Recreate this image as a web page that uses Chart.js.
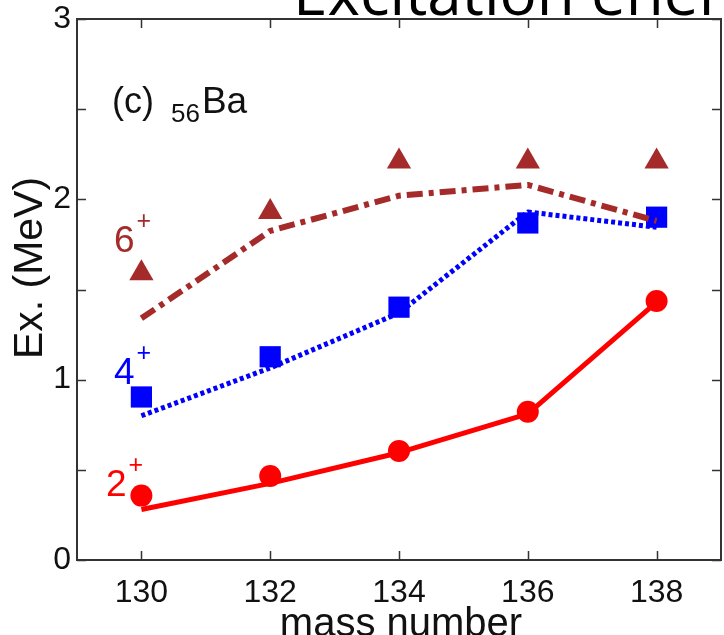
<!DOCTYPE html>
<html>
<head>
<meta charset="utf-8">
<script src="https://cdn.jsdelivr.net/npm/chart.js@4.4.1/dist/chart.umd.min.js"></script>
<style>
  html, body { margin: 0; padding: 0; background: #fff; }
  #wrap { width: 724px; height: 635px; overflow: hidden; }
</style>
</head>
<body>
<div id="wrap"><canvas id="exChart" width="724" height="635"></canvas></div>
<script>
// Ba isotopes, low-lying yrast levels (MeV)
const massNumbers = [130, 132, 134, 136, 138];
const exp2 = [0.357, 0.466, 0.605, 0.822, 1.436];
const exp4 = [0.904, 1.127, 1.402, 1.869, 1.901];
const exp6 = [1.59, 1.93, 2.21, 2.21, 2.21];
const calc2 = [0.28, 0.425, 0.595, 0.81, 1.43];
const calc4 = [0.80, 1.065, 1.37, 1.93, 1.845];
const calc6 = [1.34, 1.825, 2.02, 2.08, 1.88];
const xTicks = [130, 132, 134, 136, 138];
const yTicks = [0, 0.5, 1, 1.5, 2, 2.5, 3];

const RED = "#ff0000";
const BLUE = "#0000ff";
const BROWN = "#a52a2a";
const FONT = "'Liberation Sans', Arial, sans-serif";

const pts = (ys) => massNumbers.map((x, i) => ({ x, y: ys[i] }));

function marks(data, color, style, radius) {
  return {
    data: pts(data), showLine: false, order: 2,
    pointStyle: style, pointRadius: radius, pointHoverRadius: radius,
    backgroundColor: color, borderColor: color, pointBorderWidth: 0
  };
}

function curve(data, color, width, dash) {
  return {
    data: pts(data), showLine: true, order: 1, pointRadius: 0,
    borderColor: color, borderWidth: width, borderDash: dash,
    borderJoinStyle: "round", tension: 0, fill: false
  };
}

// keep the plot box fixed: no extra room for overhanging labels
function noPad(s) {
  s.paddingLeft = 0; s.paddingRight = 0;
  s.paddingTop = 0; s.paddingBottom = 0;
}

// frame, inward ticks and in-plot labels
const decor = {
  id: "decor",
  afterDraw(chart) {
    const { ctx, chartArea: a, scales: { x, y } } = chart;
    ctx.save();
    ctx.strokeStyle = "#333";
    ctx.lineWidth = 1.5;
    const tl = 9;
    ctx.beginPath();
    xTicks.forEach(v => {
      const px = Math.round(x.getPixelForValue(v)) + 0.5;
      ctx.moveTo(px, a.bottom); ctx.lineTo(px, a.bottom - tl);
      ctx.moveTo(px, a.top); ctx.lineTo(px, a.top + tl);
    });
    yTicks.forEach(v => {
      const py = Math.round(y.getPixelForValue(v)) + 0.5;
      ctx.moveTo(a.left, py); ctx.lineTo(a.left + tl, py);
      ctx.moveTo(a.right, py); ctx.lineTo(a.right - tl, py);
    });
    ctx.stroke();
    ctx.lineWidth = 2;
    ctx.strokeRect(a.left, a.top, a.right - a.left, a.bottom - a.top);

    ctx.textBaseline = "alphabetic";
    ctx.textAlign = "left";

    // panel label
    ctx.fillStyle = "#111";
    ctx.font = "36px " + FONT;
    ctx.fillText("(c)", 112, 113);
    ctx.font = "26px " + FONT;
    ctx.fillText("56", 171, 122);
    const sw = ctx.measureText("56").width;
    ctx.font = "37px " + FONT;
    ctx.fillText("Ba", 171 + sw + 2, 113);

    // level labels
    const lvl = (txt, color, px, py) => {
      ctx.fillStyle = color;
      ctx.font = "37px " + FONT;
      ctx.fillText(txt, px, py);
      const w = ctx.measureText(txt).width;
      ctx.font = "25px " + FONT;
      ctx.fillText("+", px + w + 2, py - 23);
    };
    lvl("6", BROWN, 114, 252);
    lvl("4", BLUE, 114, 384);
    lvl("2", RED, 106, 496);

    // y axis title
    ctx.fillStyle = "#111";
    ctx.font = "41px " + FONT;
    ctx.translate(31, 268);
    ctx.rotate(-Math.PI / 2);
    ctx.textAlign = "center";
    ctx.textBaseline = "middle";
    ctx.fillText("Ex. (MeV)", 0, 0);
    ctx.restore();

    // x axis title, running off the bottom edge
    ctx.save();
    ctx.fillStyle = "#111";
    ctx.font = "40px " + FONT;
    ctx.textAlign = "center";
    ctx.textBaseline = "alphabetic";
    ctx.fillText("mass number", (a.left + a.right) / 2 + 2, 636);

    // heading running off the top edge
    ctx.fillStyle = "#000";
    ctx.font = "62px 'Open Sans', sans-serif";
    ctx.textAlign = "left";
    ctx.fillText("Excitation energies", 293, 15);
    ctx.restore();
  }
};

new Chart(document.getElementById("exChart"), {
  type: "scatter",
  data: {
    datasets: [
      marks(exp6, BROWN, "triangle", 14),
      marks(exp4, BLUE, "rect", 15),
      marks(exp2, RED, "circle", 11),
      curve(calc6, BROWN, 6, [16, 6, 5, 6]),
      curve(calc4, BLUE, 5, [4, 3]),
      curve(calc2, RED, 5, [])
    ]
  },
  options: {
    responsive: false,
    animation: false,
    events: [],
    layout: { autoPadding: false, padding: { top: 19, right: 3, left: 0, bottom: 0 } },
    plugins: { legend: { display: false }, tooltip: { enabled: false } },
    scales: {
      x: {
        type: "linear", min: 129, max: 139,
        afterBuildTicks: s => { s.ticks = xTicks.map(v => ({ value: v })); },
        afterFit: s => { s.height = 75; noPad(s); },
        grid: { display: false, drawTicks: false },
        border: { display: false },
        ticks: { color: "#111", font: { family: FONT, size: 32 }, padding: 14, maxRotation: 0 }
      },
      y: {
        type: "linear", min: 0, max: 3,
        afterBuildTicks: s => { s.ticks = yTicks.map(v => ({ value: v })); },
        afterFit: s => { s.width = 77; noPad(s); },
        grid: { display: false, drawTicks: false },
        border: { display: false },
        ticks: {
          color: "#111", font: { family: FONT, size: 32 }, padding: 6,
          callback: v => Number.isInteger(v) ? String(v) : ""
        }
      }
    }
  },
  plugins: [decor]
});
</script>
</body>
</html>
